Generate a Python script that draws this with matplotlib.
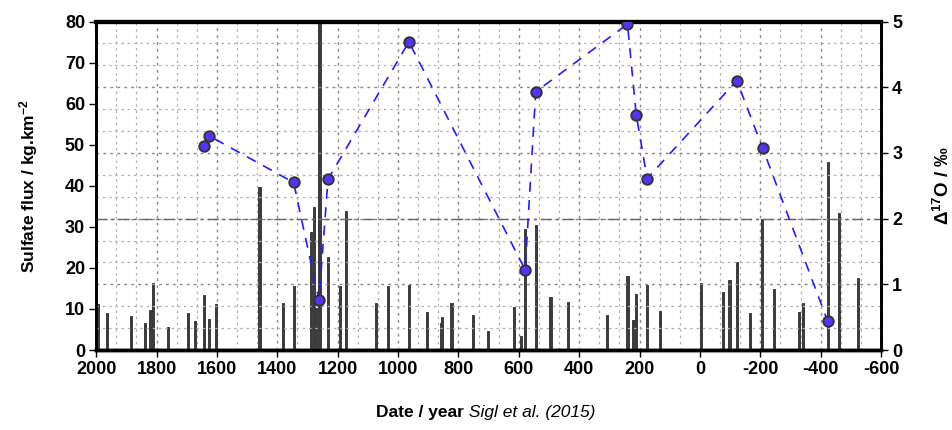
import matplotlib.pyplot as plt
from matplotlib.ticker import MultipleLocator

plt.rcParams['font.family'] = ['Liberation Sans', 'DejaVu Sans']
plt.rcParams['mathtext.default'] = 'regular'
plt.rcParams['axes.unicode_minus'] = False

# sulfate flux bars (Sigl et al. 2015)
bar_years = [1994, 1964, 1885, 1837, 1820, 1811, 1762, 1696, 1674, 1643, 1626, 1602,
             1459, 1381, 1345, 1289, 1279, 1273, 1260, 1232, 1193, 1171, 1072, 1034,
             964, 903, 859, 853, 823, 751, 702, 616, 592, 580, 544, 495, 438, 309,
             240, 220, 211, 176, 132, -3, -76, -98, -122, -166, -207, -246, -327,
             -341, -423, -460, -524]
bar_flux = [11.2, 9.1, 8.4, 6.5, 9.7, 16.4, 5.7, 8.9, 7.1, 13.4, 7.5, 11.2,
            39.6, 11.4, 15.6, 28.8, 34.9, 10.2, 200.0, 22.6, 15.6, 33.9, 11.4, 15.6,
            15.8, 9.2, 6.7, 8.0, 11.5, 8.5, 4.6, 10.4, 3.5, 29.4, 30.4, 12.8, 11.6, 8.5,
            18.0, 7.3, 13.6, 15.8, 9.5, 16.2, 14.1, 17.0, 21.5, 8.9, 31.9, 14.9, 9.2,
            11.4, 45.9, 33.3, 17.6]

# D17O of sulfate
d17o_years = [1643, 1626, 1346, 1262, 1232, 964, 579, 544, 240, 211, 175, -122, -208, -423]
d17o = [3.10, 3.26, 2.55, 0.76, 2.60, 4.69, 1.22, 3.93, 4.96, 3.58, 2.61, 4.10, 3.07, 0.44]

fig = plt.figure(figsize=(9.52, 4.30), dpi=100)
ax = fig.add_axes([0.101, 0.186, 0.8245, 0.764])
ax2 = ax.twinx()

ax.bar(bar_years, bar_flux, width=7, color='#3c3c3c', edgecolor='#3c3c3c',
       linewidth=0.7, zorder=3)
ax.set_xlim(2000, -600)
ax.set_ylim(0, 80)
ax.xaxis.set_major_locator(MultipleLocator(200))
ax.xaxis.set_minor_locator(MultipleLocator(200 / 3))
ax.yaxis.set_major_locator(MultipleLocator(10))

ax2.set_ylim(0, 5)
ax2.yaxis.set_major_locator(MultipleLocator(1))
ax2.yaxis.set_minor_locator(MultipleLocator(1 / 3))

# grids
ax.grid(which='major', axis='x', color='#888888', linestyle=(0, (2, 3)), lw=1.0, zorder=0)
ax.grid(which='minor', axis='x', color='#b0b0b0', linestyle=(0, (2, 3)), lw=0.9, zorder=0)
ax2.grid(which='major', axis='y', color='#888888', linestyle=(0, (2, 3)), lw=1.0)
ax2.grid(which='minor', axis='y', color='#b0b0b0', linestyle=(0, (2, 3)), lw=0.9)
ax2.axhline(2, color='#666666', linestyle=(0, (8, 3, 2, 3)), lw=1.0)

ax2.plot(d17o_years, d17o, linestyle=(0, (6, 5)), color='#2a1aff', lw=1.2,
         marker='o', markersize=7.5, markerfacecolor='#5533ff',
         markeredgecolor='#333333', markeredgewidth=1.4, zorder=5)

for a in (ax, ax2):
    for s in a.spines.values():
        s.set_linewidth(2.0)
    a.spines['top'].set_linewidth(3.0)
    a.spines['bottom'].set_linewidth(2.5)

ax.tick_params(axis='both', which='major', direction='out', length=5, width=1,
               labelsize=13, pad=3)
ax.tick_params(axis='x', which='minor', length=0)
ax2.tick_params(axis='y', which='major', direction='out', length=5, width=1,
                labelsize=13, pad=3)
ax2.tick_params(axis='y', which='minor', length=0)
for lab in ax.get_xticklabels() + ax.get_yticklabels() + ax2.get_yticklabels():
    lab.set_fontweight('bold')

ax.set_ylabel('Sulfate flux / kg.km$^{-2}$', fontsize=12.5, fontweight='bold', labelpad=18)
ax2.set_ylabel('Δ$^{17}$O / ‰', fontsize=13.5, fontweight='bold', labelpad=22)

fig.text(0.487, 0.04, 'Date / year', ha='right', va='center', fontsize=12.5, fontweight='bold')
fig.text(0.487, 0.04, ' Sigl et al. (2015)', ha='left', va='center', fontsize=12.5, style='italic')

fig.savefig('out.png', dpi=100)
